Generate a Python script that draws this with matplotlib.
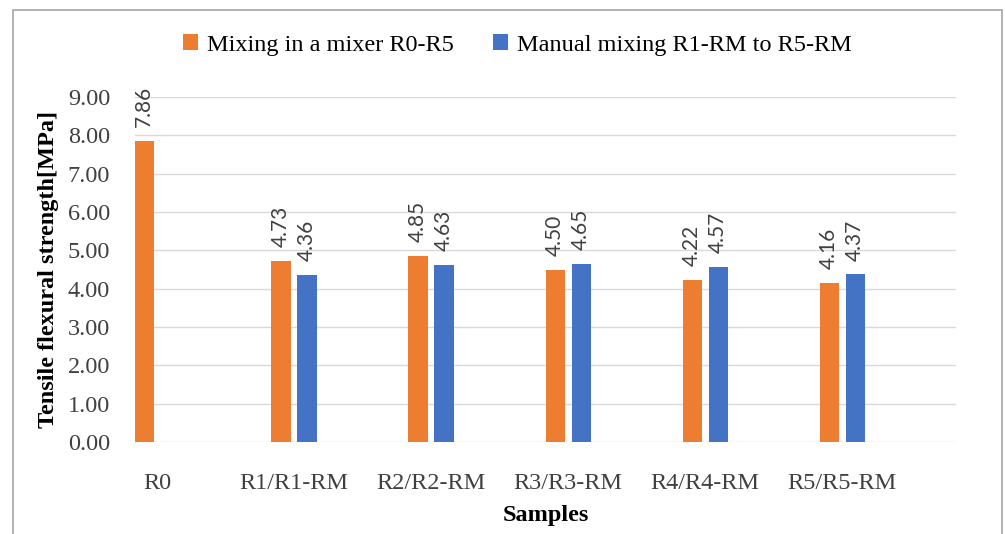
import matplotlib.pyplot as plt
import matplotlib.patches as patches
import numpy as np

samples = ['R0', 'R1/R1-RM', 'R2/R2-RM', 'R3/R3-RM', 'R4/R4-RM', 'R5/R5-RM']
mixer = [7.86, 4.73, 4.85, 4.50, 4.22, 4.16]
manual = [None, 4.36, 4.63, 4.65, 4.57, 4.37]
labels = ['Mixing in a mixer R0-R5', 'Manual mixing R1-RM to R5-RM']

orange = '#ED7D31'
blue = '#4472C4'
serif = ['Liberation Serif', 'DejaVu Serif']
fs = 17.5

fig = plt.figure(figsize=(10.05, 5.34), dpi=100)
ax = fig.add_axes([135 / 1005, 1 - 442 / 534, (956 - 135) / 1005, (442 - 97) / 534])

x = np.arange(len(samples))
w = 0.14
off = 0.095
b1 = ax.bar(x - off, mixer, w, color=orange, label=labels[0], zorder=3)
xm = [xi + off for xi, v in zip(x, manual) if v is not None]
vm = [v for v in manual if v is not None]
b2 = ax.bar(xm, vm, w, color=blue, label=labels[1], zorder=3)

for xi, v in list(zip(x - off, mixer)) + list(zip(xm, vm)):
    ax.text(xi, v + 0.36, f'{v:.2f}', rotation=90, ha='center', va='bottom',
            fontsize=15, family=['Lato', 'DejaVu Sans'], color='#404040')

ax.set_xlim(-0.16, 5.83)
ax.set_ylim(0, 9)
ax.set_yticks(np.arange(0, 10, 1))
ax.set_yticklabels([f'{v:.2f}' for v in np.arange(0, 10, 1)], family=serif, fontsize=fs, color='#404040')
ax.set_xticks(x)
ax.set_xticklabels(samples, family=serif, fontsize=fs, color='#404040')
ax.tick_params(length=0, pad=18, axis='y')
ax.tick_params(length=0, pad=22, axis='x')
ax.grid(axis='y', color='#D9D9D9', lw=1, zorder=0)
for s in ax.spines.values():
    s.set_visible(False)

ax.set_ylabel('Tensile flexural strength[MPa]', family=serif, fontsize=fs,
              fontweight='bold', labelpad=6)
ax.set_xlabel('Samples', family=serif, fontsize=fs, fontweight='bold', labelpad=8)

fig.legend(handles=[b1, b2], loc='center', bbox_to_anchor=(0.515, 1 - 45 / 534), ncol=2,
           frameon=False, prop={'family': serif, 'size': fs}, handlelength=0.6,
           handleheight=0.6, handletextpad=0.4, columnspacing=1.6)

border = patches.Rectangle((13 / 1005, -0.01), (1002 - 13) / 1005, 1 - 10 / 534 + 0.01,
                           transform=fig.transFigure, fill=False, ec='#A6A6A6', lw=1.2)
fig.patches.append(border)

fig.savefig('out.png', dpi=100)
